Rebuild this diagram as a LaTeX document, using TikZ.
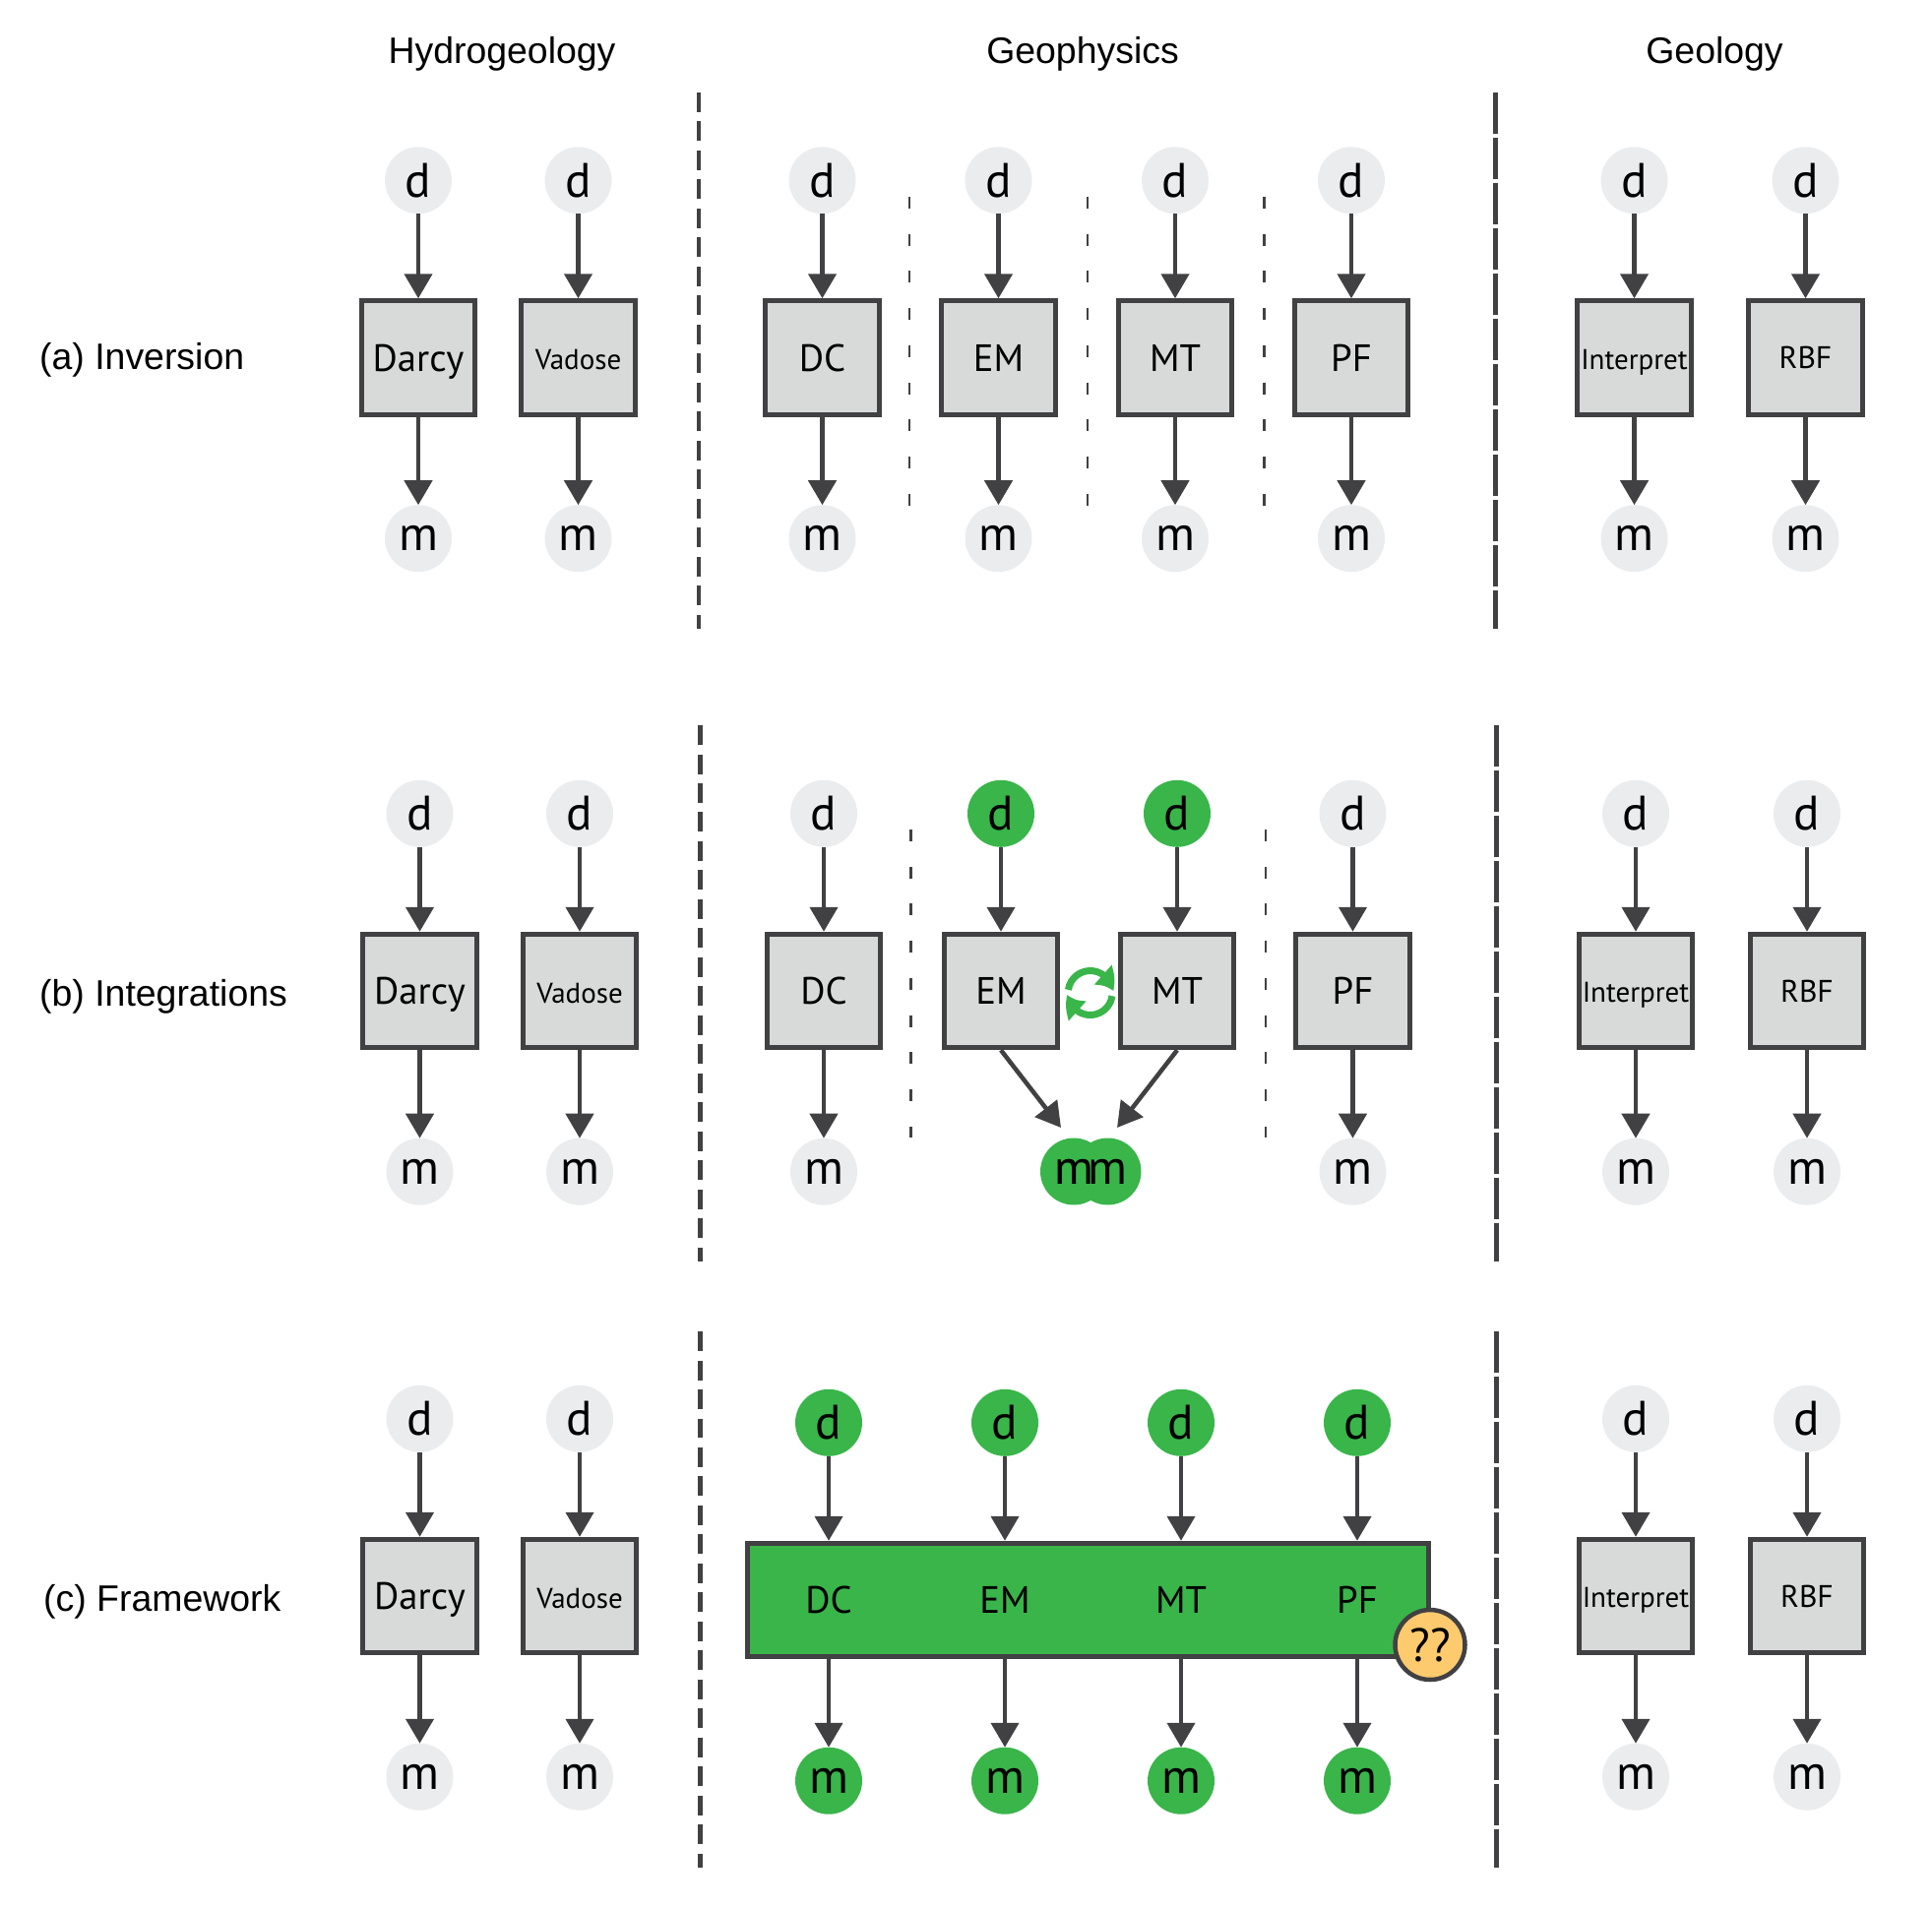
\documentclass[tikz,border=0pt]{standalone}
\usepackage{xcolor}
\usepackage{fontspec}
\setmainfont{Liberation Sans}
\newfontfamily\boxfont{PT Sans}
\usetikzlibrary{positioning}
\usetikzlibrary{arrows.meta,bending}

\definecolor{linegray}{HTML}{414042}
\definecolor{circlegray}{HTML}{EBECEE}
\definecolor{boxgray}{HTML}{D8DADA}
\definecolor{fwgreen}{HTML}{39B54A}
\definecolor{askyellow}{HTML}{FDCB6E}

\tikzset{
  blob/.style={circle, minimum size=1.36cm, inner sep=0pt, outer sep=0pt, fill=circlegray, font=\boxfont\fontsize{28}{28}\selectfont},
  greenblob/.style={blob, fill=fwgreen},
  solver/.style={rectangle, draw=linegray, line width=0.1cm, fill=boxgray, minimum size=2.31cm, inner sep=0pt, text depth=0pt, font=\boxfont\fontsize{22}{22}\selectfont},
  inband/.style={rectangle, minimum size=2.41cm, inner sep=0pt, outer sep=0pt, text depth=0pt, font=\boxfont\fontsize{22}{22}\selectfont},
  flow/.style={draw=linegray, line width=0.09cm, -{Triangle[length=0.5cm,width=0.56cm]}},
  heading/.style={font=\fontsize{21.3}{21.3}\selectfont},
  rowlabel/.style={font=\fontsize{21.3}{21.3}\selectfont, anchor=west},
  domainleft/.style={draw=linegray, line width=0.09cm, dash pattern=on 0.4cm off 0.19cm},
  domainright/.style={draw=linegray, line width=0.09cm, dash pattern=on 0.84cm off 0.08cm},
  methodsep/.style={draw=linegray, line width=0.05cm, dash pattern=on 0.24cm off 0.515cm},
  cycle/.style={draw=fwgreen, line width=0.14cm, -{Triangle[length=0.4cm,width=0.5cm,bend]}}
}

% one column: d -> box -> m
\newcommand{\methodcol}[5]{
  \node [solver, #5] (#1box) at (#2,#3) {#4};
  \node [blob, above=1.72cm of #1box] (#1d) {d};
  \node [blob, below=1.79cm of #1box] (#1m) {m};
  \draw [flow] (#1d) -- (#1box);
  \draw [flow] (#1box) -- (#1m);
}

\begin{document}
\begin{tikzpicture}[x=0.02cm, y=-0.02cm]
  \useasboundingbox (0,0) rectangle (1963,1937);

  % Headings
  \node [heading] (hydro) at (510,55) {Hydrogeology};
  \node [heading] (geoph) at (1100,55) {Geophysics};
  \node [heading] (geol) at (1742,55) {Geology};
  \node [rowlabel] (rowa) at (34,366) {(a) Inversion};
  \node [rowlabel] (rowb) at (34,1013) {(b) Integrations};
  \node [rowlabel] (rowc) at (38,1628) {(c) Framework};

  % Domain separators
  \foreach \xl/\xr/\ya/\yb in {710/1519.5/94/639, 711.5/1520.5/737/1282, 711.5/1520.5/1353/1898}{
    \draw [domainleft] (\xl,\ya) -- (\xl,\yb);
    \draw [domainright] (\xr,\ya) -- (\xr,\yb);
  }
  \foreach \x in {924,1105,1284.5}
    \draw [methodsep] (\x,200) -- (\x,514);
  \foreach \x in {925.5,1286}
    \draw [methodsep] (\x,843) -- (\x,1156);

  % Hydrogeology and geology in every row
  \foreach \rw/\dx/\ybox in {a/0/363.5, b/1.5/1007, c/1.5/1622}{
    \methodcol{darcy\rw}{425+\dx}{\ybox}{Darcy}{}
    \methodcol{vadose\rw}{587.5+\dx}{\ybox}{Vadose}{text height=14pt, font=\boxfont\fontsize{16.5}{16.5}\selectfont}
    \methodcol{interp\rw}{1660.5+\dx}{\ybox}{Interpret}{text height=13.5pt, font=\boxfont\fontsize{16.5}{16.5}\selectfont}
    \methodcol{rbf\rw}{1834.5+\dx}{\ybox}{RBF}{font=\boxfont\fontsize{18}{18}\selectfont}
  }

  % Row (a)
  \foreach \nm/\x in {DC/835.5, EM/1014.5, MT/1194, PF/1373}{
    \methodcol{a\nm}{\x}{363.5}{\nm}{}
  }

  % Row (b)
  \methodcol{bDC}{837}{1007}{DC}{}
  \methodcol{bPF}{1374.5}{1007}{PF}{}
  \foreach \nm/\x in {EM/1017, MT/1196}{
    \node [solver] (b\nm box) at (\x,1007) {\nm};
    \node [greenblob, above=1.72cm of b\nm box] (b\nm d) {d};
    \draw [flow] (b\nm d) -- (b\nm box);
  }
  \node [greenblob] (mmleft) at (1091,1190.5) {m};
  \node [greenblob] (mmright) at (1125.5,1190.5) {m};
  \node [font=\boxfont\fontsize{28}{28}\selectfont] (mmtext) at (mmleft) {m};
  \coordinate (mmtipl) at (1078,1146);
  \coordinate (mmtipr) at (1135,1146);
  \draw [flow] (bEMbox.south) -- (mmtipl);
  \draw [flow] (bMTbox.south) -- (mmtipr);
  \coordinate (swap) at (1107.7,1009);
  \draw [cycle] ([shift={(172:0.45cm)}]swap) arc[start angle=172, end angle=4, radius=0.45cm];
  \draw [cycle] ([shift={(-8:0.45cm)}]swap) arc[start angle=-8, end angle=-176, radius=0.45cm];

  % Row (c)
  \node [rectangle, draw=linegray, line width=0.1cm, fill=fwgreen, minimum width=13.84cm, minimum height=2.31cm, inner sep=0pt] (band) at (1105.5,1626) {};
  \foreach \nm/\x in {DC/842, EM/1021, MT/1200, PF/1379}{
    \node [inband] (c\nm box) at (\x,1626) {\nm};
    \node [greenblob, above=1.72cm of c\nm box] (c\nm d) {d};
    \node [greenblob, below=1.79cm of c\nm box] (c\nm m) {m};
    \draw [flow] (c\nm d) -- (c\nm box);
    \draw [flow] (c\nm box) -- (c\nm m);
  }
  \node [circle, draw=linegray, line width=0.09cm, fill=askyellow, minimum size=1.42cm, inner sep=0pt, font=\boxfont\fontsize{27}{27}\selectfont] (ask) at (1453,1671.5) {??};
\end{tikzpicture}
\end{document}
